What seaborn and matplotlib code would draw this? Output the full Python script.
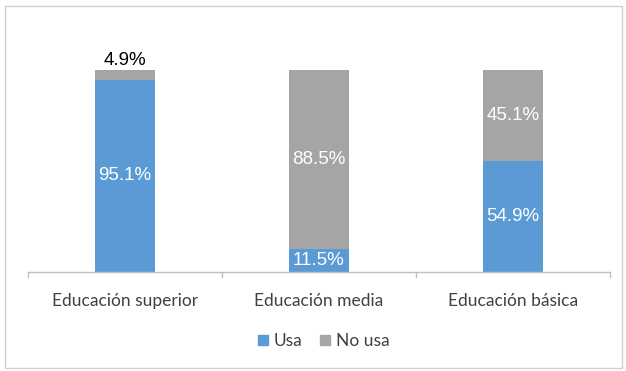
import matplotlib
matplotlib.use("Agg")
import matplotlib.pyplot as plt
import seaborn as sns
import pandas as pd
from matplotlib.patches import Rectangle
from matplotlib.lines import Line2D

categories = ["Educación superior", "Educación media", "Educación básica"]
usa = [95.1, 11.5, 54.9]
no_usa = [4.9, 88.5, 45.1]

BLUE = "#5B9BD5"
GRAY = "#A5A5A5"

sns.set_style("white")
plt.rcParams['font.family'] = ['Liberation Sans', 'DejaVu Sans']

df = pd.DataFrame({"cat": categories, "usa": usa, "no_usa": no_usa})
df["total"] = df["usa"] + df["no_usa"]

fig = plt.figure(figsize=(6.26, 3.71), dpi=100)
ax = fig.add_axes([28/626, 1 - 272/371, (610-28)/626, (272-70)/371])

sns.barplot(data=df, x="cat", y="total", color=GRAY, width=0.31, ax=ax,
            saturation=1, linewidth=0)
sns.barplot(data=df, x="cat", y="usa", color=BLUE, width=0.31, ax=ax,
            saturation=1, linewidth=0)

ax.set_ylim(0, 100)
ax.set_xlim(-0.5, 2.5)
ax.set_yticks([])
ax.set_xlabel("")
ax.set_ylabel("")
for s in ["top", "right", "left"]:
    ax.spines[s].set_visible(False)
ax.spines["bottom"].set_color("#BFBFBF")
ax.spines["bottom"].set_linewidth(1)

ax.set_xticks([0, 1, 2])
ax.set_xticklabels(categories, fontsize=12.5, color="#404040", family=["Lato", "DejaVu Sans"])
ax.tick_params(axis="x", length=0, pad=15)
for xb in [-0.5, 0.5, 1.5, 2.5]:
    ax.plot([xb, xb], [0, -2.5], color="#BFBFBF", lw=1, clip_on=False)

for i in range(len(categories)):
    u = usa[i]
    n = no_usa[i]
    ax.text(i, u / 2, f"{u}%", ha="center", va="center", color="white", fontsize=13.5)
    if i == 0:
        ax.text(i, u + n + 0.3, f"{n}%", ha="center", va="bottom", color="black", fontsize=13.5)
    else:
        ax.text(i, u + n / 2, f"{n}%", ha="center", va="center", color="white", fontsize=13.5)

handles = [Line2D([], [], marker="s", linestyle="none", markersize=7, color=BLUE),
           Line2D([], [], marker="s", linestyle="none", markersize=7, color=GRAY)]
fig.legend(handles, ["Usa", "No usa"], loc="center", bbox_to_anchor=(322/626, 1 - 341/371),
           ncol=2, frameon=False, handletextpad=0.1, columnspacing=0.8,
           prop={"family": ["Lato", "DejaVu Sans"], "size": 12.5}, labelcolor="#404040",
           handlelength=1.0)

fig.patches.append(Rectangle((5/626, 3/371), 617/626, 362/371, transform=fig.transFigure,
                             fill=False, edgecolor="#D0D0D0", lw=1))

fig.savefig("out.png", dpi=100, facecolor="white")
